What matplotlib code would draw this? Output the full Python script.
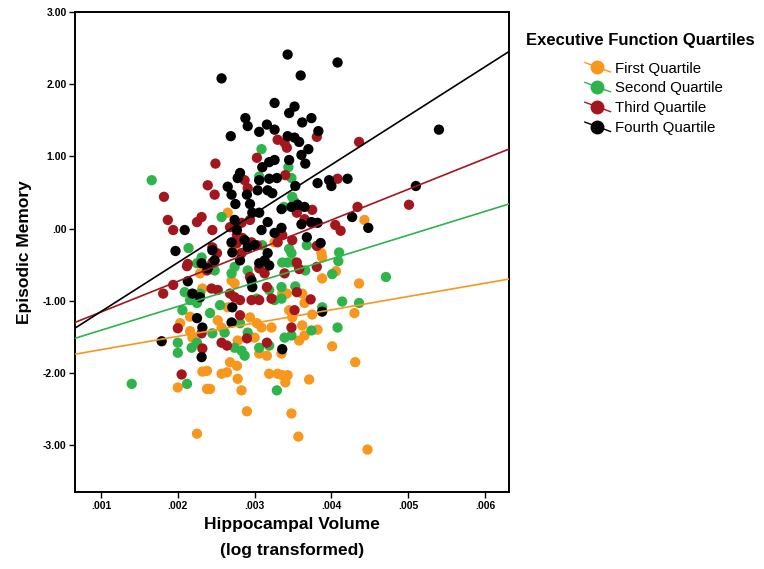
import matplotlib
matplotlib.use("Agg")
from matplotlib import pyplot as plt
from matplotlib.lines import Line2D
from matplotlib.legend_handler import HandlerBase
import numpy as np

plt.rcParams['font.family'] = ['Liberation Sans', 'DejaVu Sans']

# hippocampal volume (x) and episodic memory (y)
first_x = [0.00265, 0.00270, 0.00274, 0.00229, 0.00270, 0.00274, 0.00232, 0.00265, 0.00203, 0.00252,
           0.00257, 0.00294, 0.00303, 0.00309, 0.00322, 0.00216, 0.00219, 0.00278, 0.00300, 0.00306,
           0.00316, 0.00268, 0.00277, 0.00238, 0.00232, 0.00257, 0.00264, 0.00278, 0.00319, 0.00330,
           0.00200, 0.00238, 0.00242, 0.00283, 0.00290, 0.00225, 0.00326, 0.00443, 0.00387, 0.00388,
           0.00388, 0.00406, 0.00436, 0.00336, 0.00342, 0.00362, 0.00365, 0.00345, 0.00349, 0.00375,
           0.00430, 0.00362, 0.00382, 0.00358, 0.00365, 0.00401, 0.00431, 0.00335, 0.00336, 0.00343,
           0.00340, 0.00371, 0.00348, 0.00357, 0.00447, 0.00216]
first_y = [0.22, -0.20, -0.26, -0.62, -0.72, -0.76, -0.83, -1.09, -1.31, -1.27,
           -1.37, -1.23, -1.31, -1.37, -1.37, -1.42, -1.51, -1.55, -1.51, -1.73,
           -1.76, -1.85, -1.90, -1.97, -1.98, -2.01, -1.99, -2.08, -2.01, -2.01,
           -2.20, -2.22, -2.22, -2.24, -2.53, -2.84, -0.19, 0.12, -0.34, -0.40,
           -0.69, -0.59, -0.76, -0.90, -0.90, -0.90, -1.03, -1.13, -1.23, -1.19,
           -1.17, -1.34, -1.40, -1.55, -1.48, -1.63, -1.85, -1.73, -2.03, -2.03,
           -2.13, -2.09, -2.56, -2.88, -3.06, -1.22]

second_x = [0.00309, 0.00257, 0.00214, 0.00231, 0.00225, 0.00248, 0.00274, 0.00270, 0.00310, 0.00291,
            0.00209, 0.00216, 0.00229, 0.00255, 0.00303, 0.00319, 0.00326, 0.00206, 0.00225, 0.00242,
            0.00281, 0.00261, 0.00245, 0.00291, 0.00200, 0.00200, 0.00218, 0.00225, 0.00283, 0.00306,
            0.00319, 0.00287, 0.00212, 0.00329, 0.00274, 0.00344, 0.00348, 0.00349, 0.00338, 0.00368,
            0.00345, 0.00348, 0.00336, 0.00343, 0.00352, 0.00410, 0.00409, 0.00366, 0.00401, 0.00471,
            0.00335, 0.00353, 0.00335, 0.00414, 0.00436, 0.00388, 0.00374, 0.00408, 0.00348, 0.00339,
            0.00140, 0.00166, 0.00306, 0.00352]
second_y = [1.10, 0.16, -0.27, -0.40, -0.48, -0.58, -0.53, -0.62, -0.23, -0.58,
            -0.88, -0.99, -0.90, -1.06, -0.97, -0.85, -0.99, -1.13, -1.03, -1.17,
            -1.31, -1.44, -1.45, -1.44, -1.58, -1.72, -1.65, -1.58, -1.69, -1.65,
            -1.62, -1.76, -2.15, -2.24, -1.65, 0.85, 0.70, 0.44, 0.30, -0.23,
            -0.28, -0.34, -0.47, -0.47, -0.47, -0.33, -0.45, -0.58, -0.63, -0.67,
            -0.81, -0.80, -0.97, -1.01, -1.03, -1.09, -1.41, -1.37, -1.48, -1.51,
            -2.15, 0.67, 0.72, 0.37]

third_x = [0.00249, 0.00182, 0.00239, 0.00248, 0.00187, 0.00194, 0.00225, 0.00231, 0.00245, 0.00287,
           0.00291, 0.00303, 0.00330, 0.00268, 0.00277, 0.00283, 0.00294, 0.00284, 0.00296, 0.00303,
           0.00245, 0.00251, 0.00213, 0.00238, 0.00245, 0.00277, 0.00283, 0.00306, 0.00313, 0.00194,
           0.00181, 0.00244, 0.00252, 0.00268, 0.00274, 0.00281, 0.00294, 0.00296, 0.00306, 0.00316,
           0.00322, 0.00281, 0.00231, 0.00257, 0.00264, 0.00290, 0.00316, 0.00200, 0.00205, 0.00232,
           0.00330, 0.00330, 0.00381, 0.00436, 0.00339, 0.00342, 0.00340, 0.00408, 0.00434, 0.00375,
           0.00365, 0.00374, 0.00405, 0.00412, 0.00355, 0.00336, 0.00349, 0.00381, 0.00355, 0.00358,
           0.00381, 0.00339, 0.00355, 0.00373, 0.00352, 0.00348, 0.00501, 0.00212]
third_y = [0.90, 0.44, 0.60, 0.47, 0.12, -0.02, 0.09, 0.16, -0.02, 0.67,
           0.56, 0.98, 1.23, 0.02, -0.09, 0.08, 0.12, -0.13, -0.19, -0.23,
           -0.26, -0.34, -0.49, -0.58, -0.47, -0.20, -0.34, -0.55, -0.62, -0.78,
           -0.90, -0.83, -0.85, -0.90, -0.95, -0.99, -0.67, -0.99, -0.99, -0.81,
           -0.97, -1.20, -1.45, -1.58, -1.62, -1.52, -1.58, -1.38, -2.02, -1.66,
           -0.06, -0.19, 1.27, 1.20, 1.19, 1.12, 0.74, 0.69, 0.30, 0.26,
           0.13, 0.08, 0.05, -0.03, 0.22, -0.09, -0.16, -0.24, -0.47, -0.56,
           -0.53, -0.62, -0.88, -0.98, -1.13, -1.37, 0.33, -0.52]

fourth_x = [0.00257, 0.00326, 0.00288, 0.00291, 0.00269, 0.00306, 0.00316, 0.00326, 0.00310, 0.00319,
            0.00326, 0.00306, 0.00319, 0.00329, 0.00281, 0.00278, 0.00265, 0.00270, 0.00290, 0.00304,
            0.00317, 0.00323, 0.00275, 0.00294, 0.00297, 0.00306, 0.00317, 0.00309, 0.00326, 0.00274,
            0.00277, 0.00209, 0.00287, 0.00291, 0.00300, 0.00270, 0.00271, 0.00197, 0.00245, 0.00248,
            0.00231, 0.00239, 0.00281, 0.00306, 0.00313, 0.00319, 0.00317, 0.00213, 0.00219, 0.00229,
            0.00297, 0.00296, 0.00271, 0.00225, 0.00232, 0.00270, 0.00179, 0.00231, 0.00408, 0.00360,
            0.00343, 0.00352, 0.00345, 0.00362, 0.00374, 0.00383, 0.00343, 0.00352, 0.00358, 0.00370,
            0.00361, 0.00345, 0.00366, 0.00382, 0.00397, 0.00400, 0.00421, 0.00353, 0.00335, 0.00348,
            0.00356, 0.00365, 0.00361, 0.00374, 0.00382, 0.00427, 0.00448, 0.00335, 0.00368, 0.00386,
            0.00388, 0.00336, 0.00540, 0.00510]
fourth_y = [2.08, 1.74, 1.53, 1.42, 1.28, 1.34, 1.44, 1.37, 0.85, 0.92,
            0.95, 0.67, 0.69, 0.70, 0.77, 0.70, 0.58, 0.47, 0.47, 0.53,
            0.53, 0.49, 0.34, 0.34, 0.22, 0.22, 0.09, -0.02, -0.06, 0.12,
            -0.02, -0.02, -0.16, -0.26, -0.23, -0.19, -0.33, -0.31, -0.30, -0.44,
            -0.48, -0.55, -0.44, -0.48, -0.44, -0.51, -0.34, -0.73, -0.90, -0.95,
            -0.81, -0.72, -1.09, -1.24, -1.37, -1.30, -1.56, -1.78, 2.30, 2.12,
            2.41, 1.69, 1.60, 1.47, 1.53, 1.35, 1.28, 1.26, 1.20, 1.10,
            1.02, 0.95, 0.90, 0.63, 0.67, 0.59, 0.69, 0.59, 0.27, 0.30,
            0.33, 0.30, 0.06, 0.09, 0.08, 0.16, 0.01, 0.01, -0.12, -0.20,
            -1.15, -1.67, 1.37, 0.59]

group_names = ["First Quartile", "Second Quartile", "Third Quartile", "Fourth Quartile"]
group_colors = ["#F7971E", "#2EB44B", "#A4161E", "#000000"]
# fit lines: slope, intercept
fit_slope = [184.1, 329.2, 424.8, 677.9]
fit_intercept = [-1.861, -1.737, -1.580, -1.827]

xs = [first_x, second_x, third_x, fourth_x]
ys = [first_y, second_y, third_y, fourth_y]


class SlantHandler(HandlerBase):
    def create_artists(self, legend, orig_handle, xdescent, ydescent, width, height, fontsize, trans):
        c = orig_handle.get_color()
        ln = Line2D([-xdescent + width * 0.05, width - xdescent], [height * 0.95 - ydescent, -ydescent + height * 0.05],
                    color=c, lw=1.0, transform=trans)
        mk = Line2D([width * 0.5 - xdescent], [height * 0.5 - ydescent], marker='o', ms=9,
                    color=c, ls='none', transform=trans)
        return [ln, mk]


fig = plt.figure(figsize=(7.64, 5.69), dpi=100)
ax = fig.add_axes([0.098, 0.135, 0.568, 0.844])

for x, y, c in zip(xs, ys, group_colors):
    ax.scatter(x, y, s=55, color=c, edgecolors='none', zorder=2)

xl = np.array([0.00066, 0.00631])
for m, b, c in zip(fit_slope, fit_intercept, group_colors):
    ax.plot(xl, m * xl + b, color=c, lw=1.2, zorder=3)

ax.set_xlim(0.00066, 0.00631)
ax.set_ylim(-3.65, 3.0)
ax.set_xticks([0.001, 0.002, 0.003, 0.004, 0.005, 0.006])
ax.set_xticklabels([".001", ".002", ".003", ".004", ".005", ".006"])
ax.set_yticks([3, 2, 1, 0, -1, -2, -3])
ax.set_yticklabels(["3.00", "2.00", "1.00", ".00", "-1.00", "-2.00", "-3.00"])
ax.tick_params(length=4, width=1, labelsize=7.5, pad=2)
for lab in ax.get_xticklabels() + ax.get_yticklabels():
    lab.set_fontweight('bold')
for sp in ax.spines.values():
    sp.set_linewidth(1.4)

ax.set_ylabel("Episodic Memory", fontsize=12.5, fontweight='bold', labelpad=8)
fig.text(292 / 764, 1 - 524 / 569, "Hippocampal Volume", fontsize=12.5, fontweight='bold',
         ha='center', va='center')
fig.text(292 / 764, 1 - 551 / 569, "(log transformed)", fontsize=12.5, fontweight='bold',
         ha='center', va='center')

# legend title and entries
fig.text(640 / 764, 1 - 40 / 569, "Executive Function Quartiles", fontsize=12, fontweight='bold',
         ha='center', va='center')
handles = [Line2D([], [], color=c) for c in group_colors]
leg = fig.legend(handles, group_names, loc='upper left', bbox_to_anchor=(576 / 764, 1 - 54 / 569),
                 frameon=False, fontsize=10.8, borderpad=0,
                 handler_map={Line2D: SlantHandler()}, handlelength=1.8, handletextpad=0.3,
                 labelspacing=0.39)

fig.savefig("out.png", dpi=100)
